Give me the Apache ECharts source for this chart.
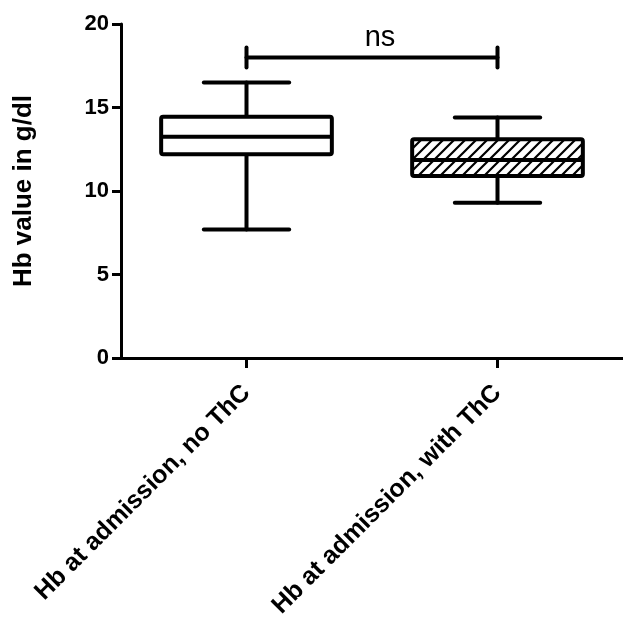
<!DOCTYPE html>
<html>
<head>
<meta charset="utf-8">
<script src="https://cdn.jsdelivr.net/npm/echarts@6/dist/echarts.min.js"></script>
<style>
html,body{margin:0;padding:0;background:#fff;}
#c{width:623px;height:618px;}
</style>
</head>
<body>
<div id="c"></div>
<script>
// ---- data ----
const categories = ['Hb at admission, no ThC', 'Hb at admission, with ThC'];
const whiskerLow = [7.7, 9.3];
const q1 = [12.2, 10.9];
const median = [13.25, 11.85];
const q3 = [14.45, 13.1];
const whiskerHigh = [16.5, 14.4];
const hatched = [false, true];
const yTicks = [0, 5, 10, 15, 20];
const sigFrom = 0, sigTo = 1, sigValue = 18, sigLabel = 'ns';
const yAxisTitle = 'Hb value in g/dl';

// ---- hatch pattern ----
function makeHatch() {
  const s = 11;
  const cv = document.createElement('canvas');
  cv.width = s; cv.height = s;
  const ctx = cv.getContext('2d');
  ctx.fillStyle = '#fff';
  ctx.fillRect(0, 0, s, s);
  ctx.strokeStyle = '#000';
  ctx.lineWidth = 2.2;
  ctx.beginPath();
  ctx.moveTo(-1, s + 1); ctx.lineTo(s + 1, -1);
  ctx.moveTo(-2, 2); ctx.lineTo(2, -2);
  ctx.moveTo(s - 2, s + 2); ctx.lineTo(s + 2, s - 2);
  ctx.stroke();
  return cv;
}
const hatchCanvas = makeHatch();

const boxData = categories.map((c, i) => [i, whiskerLow[i], q1[i], median[i], q3[i], whiskerHigh[i], hatched[i] ? 1 : 0]);

const FONT = "'Liberation Sans', Arial, Helvetica, sans-serif";
const chart = echarts.init(document.getElementById('c'), null, {renderer: 'canvas'});
const LW = 4;

chart.setOption({
  animation: false,
  backgroundColor: '#fff',
  grid: {left: 121, right: 0, top: 24, bottom: 260, containLabel: false, outerBoundsMode: 'none'},
  xAxis: {
    type: 'category',
    data: categories,
    boundaryGap: true,
    axisLine: {show: true, lineStyle: {color: '#000', width: 3}},
    axisTick: {show: true, alignWithLabel: true, length: 10, lineStyle: {color: '#000', width: 3}},
    axisLabel: {rotate: 45, margin: 31, color: '#000', fontFamily: FONT, fontWeight: 'bold', fontSize: 25},
    splitLine: {show: false}
  },
  yAxis: {
    type: 'value',
    min: yTicks[0], max: yTicks[yTicks.length - 1], interval: yTicks[1] - yTicks[0],
    name: yAxisTitle,
    nameLocation: 'middle',
    nameGap: 84,
    nameTextStyle: {color: '#000', fontFamily: FONT, fontWeight: 'bold', fontSize: 26},
    axisLine: {show: true, lineStyle: {color: '#000', width: 3}},
    axisTick: {show: true, length: 9, lineStyle: {color: '#000', width: 3}},
    axisLabel: {margin: 12, color: '#000', fontFamily: FONT, fontWeight: 'bold', fontSize: 22},
    splitLine: {show: false}
  },
  series: [
    {
      type: 'custom',
      data: boxData,
      encode: {x: 0, y: [1, 2, 3, 4, 5]},
      clip: false,
      renderItem: function (params, api) {
        const idx = api.value(0);
        const band = api.size([1, 0])[0];
        const bw = band * 0.68;
        const cw = bw * 0.5;
        const pLow = api.coord([idx, api.value(1)]);
        const pQ1 = api.coord([idx, api.value(2)]);
        const pMed = api.coord([idx, api.value(3)]);
        const pQ3 = api.coord([idx, api.value(4)]);
        const pHigh = api.coord([idx, api.value(5)]);
        const cx = pQ1[0];
        const isHatch = api.value(6) === 1;
        const line = {stroke: '#000', lineWidth: LW, lineCap: 'round'};
        return {
          type: 'group',
          children: [
            {type: 'line', shape: {x1: cx, y1: pQ3[1], x2: cx, y2: pHigh[1]}, style: line},
            {type: 'line', shape: {x1: cx, y1: pQ1[1], x2: cx, y2: pLow[1]}, style: line},
            {type: 'line', shape: {x1: cx - cw / 2, y1: pHigh[1], x2: cx + cw / 2, y2: pHigh[1]}, style: line},
            {type: 'line', shape: {x1: cx - cw / 2, y1: pLow[1], x2: cx + cw / 2, y2: pLow[1]}, style: line},
            {type: 'rect', shape: {x: cx - bw / 2, y: pQ3[1], width: bw, height: pQ1[1] - pQ3[1], r: 2},
              style: {fill: isHatch ? {image: hatchCanvas, repeat: 'repeat'} : '#fff', stroke: '#000', lineWidth: LW}},
            {type: 'line', shape: {x1: cx - bw / 2, y1: pMed[1], x2: cx + bw / 2, y2: pMed[1]}, style: {stroke: '#000', lineWidth: LW}}
          ]
        };
      }
    },
    {
      type: 'custom',
      data: [[sigFrom, sigTo, sigValue]],
      clip: false,
      renderItem: function (params, api) {
        const a = api.coord([api.value(0), api.value(2)]);
        const b = api.coord([api.value(1), api.value(2)]);
        const h = 10;
        const st = {stroke: '#000', lineWidth: LW, lineCap: 'round'};
        return {
          type: 'group',
          children: [
            {type: 'line', shape: {x1: a[0], y1: a[1], x2: b[0], y2: b[1]}, style: st},
            {type: 'line', shape: {x1: a[0], y1: a[1] - h, x2: a[0], y2: a[1] + h}, style: st},
            {type: 'line', shape: {x1: b[0], y1: b[1] - h, x2: b[0], y2: b[1] + h}, style: st},
            {type: 'text', x: (a[0] + b[0]) / 2 + 8, y: a[1] - 5,
              style: {text: sigLabel, fill: '#000', font: "29px 'Liberation Sans Narrow', 'Liberation Sans', Arial, sans-serif", textAlign: 'center', textVerticalAlign: 'bottom'}}
          ]
        };
      }
    }
  ]
});
</script>
</body>
</html>
